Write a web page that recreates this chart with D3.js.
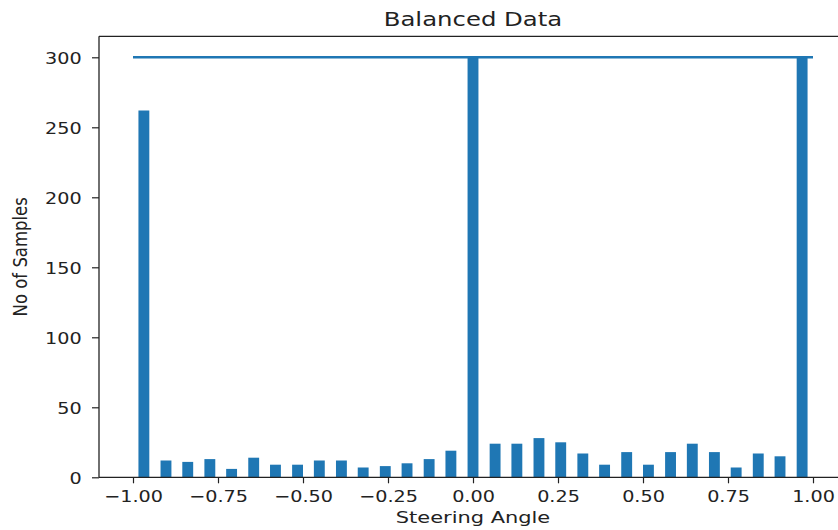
<!DOCTYPE html>
<html>
<head>
<meta charset="utf-8">
<script src="https://cdn.jsdelivr.net/npm/d3@7"></script>
<style>
  html, body { margin: 0; padding: 0; background: #fff; }
  text { font-family: "DejaVu Sans", sans-serif; fill: #222; }
</style>
</head>
<body>
<svg id="chart" width="838" height="530"></svg>
<script>
// ---- data ----
const binCenters = [-0.968, -0.903, -0.839, -0.774, -0.710, -0.645, -0.581, -0.516,
  -0.452, -0.387, -0.323, -0.258, -0.194, -0.129, -0.065, 0.000,
  0.065, 0.129, 0.194, 0.258, 0.323, 0.387, 0.452, 0.516,
  0.581, 0.645, 0.710, 0.774, 0.839, 0.903, 0.968];
const sampleCounts = [262, 12, 11, 13, 6, 14, 9, 9,
  12, 12, 7, 8, 10, 13, 19, 300,
  24, 24, 28, 25, 17, 9, 18, 9,
  18, 24, 18, 7, 17, 15, 300];
const samplesPerBin = 300;
const lineX = [-1, 1];
const xTicks = [-1.0, -0.75, -0.5, -0.25, 0, 0.25, 0.5, 0.75, 1.0];
const xTickLabels = ["\u22121.00", "\u22120.75", "\u22120.50", "\u22120.25", "0.00", "0.25", "0.50", "0.75", "1.00"];
const yTicks = [0, 50, 100, 150, 200, 250, 300];
const barWidth = 0.032;
const titleText = "Balanced Data";
const xLabelText = "Steering Angle";
const yLabelText = "No of Samples";

// ---- layout ----
const svg = d3.select("#chart");
const mLeft = 99, mRight = 847, mTop = 36.3, mBottom = 477.3;
const sx = 1.2; // horizontal stretch of text

const x = d3.scaleLinear().domain([-1.1, 1.1]).range([mLeft, mRight]);
const y = d3.scaleLinear().domain([0, 315]).range([mBottom, mTop]);

// bars
svg.append("g").selectAll("rect")
  .data(binCenters)
  .join("rect")
  .attr("x", (d) => x(d - barWidth / 2))
  .attr("width", (d) => x(d + barWidth / 2) - x(d - barWidth / 2))
  .attr("y", (d, i) => y(sampleCounts[i]))
  .attr("height", (d, i) => y(0) - y(sampleCounts[i]))
  .attr("fill", "#1f77b4");

// horizontal line
svg.append("line")
  .attr("x1", x(lineX[0])).attr("x2", x(lineX[1]))
  .attr("y1", y(samplesPerBin)).attr("y2", y(samplesPerBin))
  .attr("stroke", "#1f77b4").attr("stroke-width", 2.5);

// axes
const xAxis = d3.axisBottom(x).tickValues(xTicks)
  .tickFormat((d, i) => xTickLabels[i]).tickSize(6).tickSizeOuter(0);
const gx = svg.append("g").attr("transform", `translate(0,${mBottom})`).call(xAxis);
gx.select(".domain").remove();
gx.selectAll(".tick line").attr("stroke", "#222").attr("stroke-width", 1.2);
gx.selectAll(".tick text")
  .attr("y", 24.3).attr("dy", null)
  .attr("transform", `scale(${sx},1)`)
  .style("font-size", "16px").attr("fill", "#222");

const yAxis = d3.axisLeft(y).tickValues(yTicks).tickSize(7).tickSizeOuter(0);
const gy = svg.append("g").attr("transform", `translate(${mLeft},0)`).call(yAxis);
gy.select(".domain").remove();
gy.selectAll(".tick line").attr("stroke", "#222").attr("stroke-width", 1.2);
gy.selectAll(".tick text")
  .attr("x", -17.3 / sx).attr("dy", "0.36em")
  .attr("transform", `scale(${sx},1)`)
  .style("font-size", "16px").attr("fill", "#222");

// spines
const sp = svg.append("g").attr("stroke", "#222").attr("stroke-width", 1.3).attr("fill", "none");
sp.append("line").attr("x1", mLeft).attr("x2", mRight).attr("y1", mBottom).attr("y2", mBottom);
sp.append("line").attr("x1", mLeft).attr("x2", mRight).attr("y1", mTop).attr("y2", mTop);
sp.append("line").attr("x1", mLeft).attr("x2", mLeft).attr("y1", mTop).attr("y2", mBottom);
sp.append("line").attr("x1", mRight).attr("x2", mRight).attr("y1", mTop).attr("y2", mBottom);

// title & labels
svg.append("text")
  .attr("transform", `translate(${(mLeft + mRight) / 2},26) scale(1.25,1)`)
  .attr("text-anchor", "middle").style("font-size", "19.5px")
  .text(titleText);

svg.append("text")
  .attr("transform", `translate(${(mLeft + mRight) / 2},523) scale(1.27,1)`)
  .attr("text-anchor", "middle").style("font-size", "16.5px")
  .text(xLabelText);

svg.append("text")
  .attr("transform", `translate(27,${(mTop + mBottom) / 2}) scale(1.15,1) rotate(-90)`)
  .attr("text-anchor", "middle").style("font-size", "16.5px")
  .text(yLabelText);
</script>
</body>
</html>
